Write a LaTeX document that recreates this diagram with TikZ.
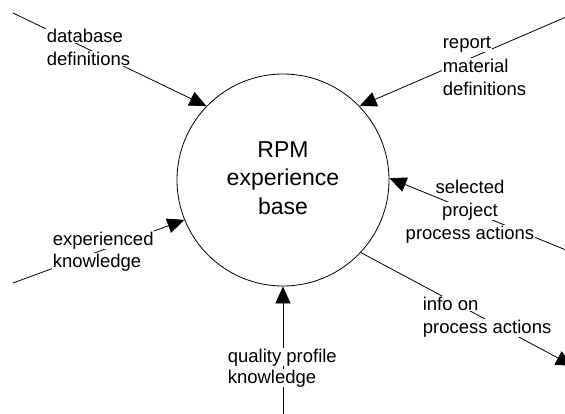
\documentclass[tikz,border=0pt]{standalone}
\usepackage{fontspec}
\setmainfont{Liberation Sans}
\usetikzlibrary{arrows.meta}
\begin{document}
\begin{tikzpicture}[x=1pt,y=-1pt,
  conn/.style={line width=0.8pt},
  arr/.style={conn,-{Triangle[length=17pt,width=15pt]}},
  lbl/.style={fill=white,inner sep=0.6pt,font=\fontsize{18.5}{23}\selectfont,anchor=base west},
  lblc/.style={lbl,anchor=base},
  ctr/.style={font=\fontsize{23}{28.5}\selectfont,align=center,inner sep=0pt}]
\useasboundingbox (0,0) rectangle (565,413);
\node[circle,draw,line width=0.8pt,minimum size=212pt,inner sep=0pt] (c) at (283,180) {};
\node[ctr] (ct) at (283,178) {RPM\\experience\\base};
\coordinate (e1) at (13,13);
\coordinate (e2) at (566,17);
\coordinate (e3) at (566,250);
\coordinate (e4) at (573,366);
\coordinate (e5) at (13,283);
\coordinate (e6) at (283,414);
\draw[arr] (e1) -- (c.136);
\draw[arr] (e2) -- (c.44.5);
\draw[arr] (e3) -- (c.1);
\draw[arr] (c.-43.5) -- (e4);
\draw[arr] (e5) -- (c.202.5);
\draw[arr] (e6) -- (c.270);
\node[lbl] (a1) at (46,42) {database};
\node[lbl] (a2) at (46,65) {definitions};
\node[lbl] (b1) at (442,48) {report};
\node[lbl] (b2) at (442,72) {material};
\node[lbl] (b3) at (442,95) {definitions};
\node[lblc] (s1) at (470,193) {selected};
\node[lblc] (s2) at (470,216) {project};
\node[lblc] (s3) at (470,239) {process actions};
\node[lbl] (i1) at (422,310) {info on};
\node[lbl] (i2) at (422,333) {process actions};
\node[lbl] (k1) at (52,245) {experienced};
\node[lbl] (k2) at (52,267) {knowledge};
\node[lbl] (q1) at (227,362) {quality profile};
\node[lbl] (q2) at (227,383) {knowledge};
\end{tikzpicture}
\end{document}
